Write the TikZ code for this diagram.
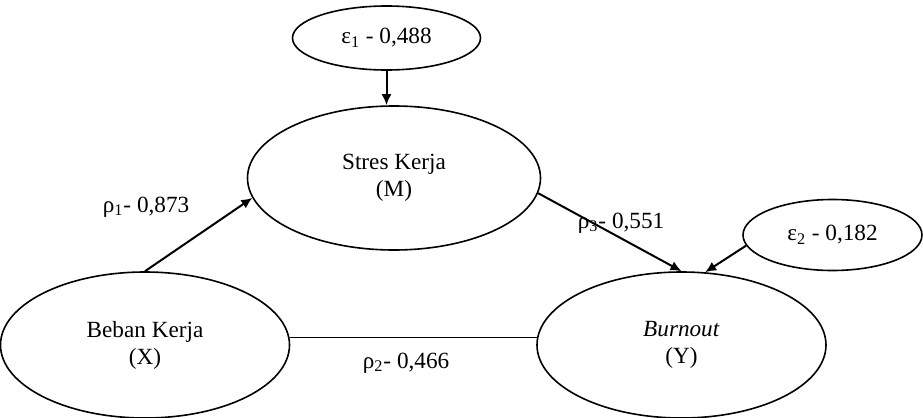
\documentclass[tikz,border=0pt]{standalone}
\usepackage{fontspec}
\setmainfont{Liberation Serif}
\usetikzlibrary{positioning,shapes.geometric,arrows.meta}
\newcommand{\coef}[3]{#1\textsubscript{#2}#3}

\begin{document}
\begin{tikzpicture}[
    x=0.5pt, y=-0.5pt,
    >={Latex[length=5.5pt,width=5pt]},
    every node/.style={ font=\fontsize{11.6}{13.5}\selectfont,
                        align=center,
                        inner sep=0pt},
    latent/.style={draw, ellipse, line width=0.8pt,
                   minimum width=144.5pt, minimum height=73pt},
    resid/.style={draw, ellipse, line width=0.8pt},
    path/.style={->, line width=1pt}]

    \useasboundingbox (0,0) rectangle (923,418);

    \node[latent] (X) at (145,345) {Beban Kerja\\(X)};
    \node[latent] (Y) at (681.5,345) {\textit{Burnout}\\(Y)};
    \node[latent, minimum width=146.5pt, minimum height=72pt] (M) at (394,178) {Stres Kerja\\(M)};

    \node[resid, minimum width=94pt, minimum height=32pt] (e1) at (386.5,38) {\coef{ε}{1}{ - 0,488}};
    \node[resid, minimum width=89.5pt, minimum height=35.5pt] (e2) at (832.5,235) {\coef{ε}{2}{ - 0,182}};

    \draw[path] (e1.south) -- (e1.south |- M.north);
    \draw[path] (X.north) -- (M.188);
    \draw[path] (M.-6) -- (Y.north);
    \draw[path] (e2.187) -- (Y.72);
    \draw[line width=0.6pt] (X.3) -- (Y.177);

    \node (p1) at (146,207) {\coef{ρ}{1}{- 0,873}};
    \node (p3) at (621,223) {\coef{ρ}{3}{- 0,551}};
    \node (p2) at (406,363) {\coef{ρ}{2}{- 0,466}};

\end{tikzpicture}
\end{document}
